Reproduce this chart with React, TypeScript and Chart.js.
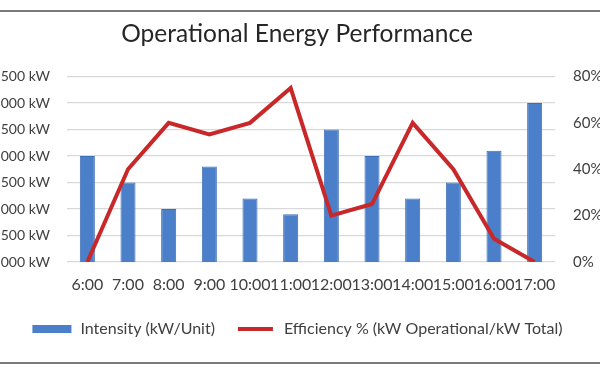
import React, { useEffect, useRef } from "react";
import { Chart, registerables } from "chart.js";

Chart.register(...registerables);

const categories = ["6:00", "7:00", "8:00", "9:00", "10:00", "11:00", "12:00", "13:00", "14:00", "15:00", "16:00", "17:00"];
const intensity = [3000, 2500, 2000, 2800, 2200, 1900, 3500, 3000, 2200, 2500, 3100, 4000];
const efficiency = [0, 40, 60, 55, 60, 75, 20, 25, 60, 40, 10, 0];
const intensityAxis = [1000, 4500, 500];
const efficiencyAxis = [0, 80, 20];
const chartTitle = "Operational Energy Performance";
const seriesNames = ["Intensity (kW/Unit)", "Efficiency % (kW Operational/kW Total)"];

const FONT = "Lato, 'Open Sans', sans-serif";
const BAR = "#4c7fc9";
const BAR_BORDER = "#3e6eb6";
const RED = "#c8282a";
const TEXT = "#404040";

export default function App() {
  const ref = useRef<HTMLCanvasElement | null>(null);

  useEffect(() => {
    if (!ref.current) return;
    const chart = new Chart(ref.current, {
      type: "bar",
      data: {
        labels: categories,
        datasets: [
          {
            type: "bar",
            label: seriesNames[0],
            data: intensity,
            backgroundColor: BAR,
            borderColor: BAR_BORDER,
            borderWidth: 1,
            barPercentage: 0.37,
            categoryPercentage: 1,
            yAxisID: "y",
            order: 1,
          },
          {
            type: "line",
            label: seriesNames[1],
            data: efficiency,
            borderColor: RED,
            backgroundColor: RED,
            borderWidth: 4,
            pointRadius: 0,
            tension: 0,
            yAxisID: "y1",
            order: 0,
          } as any,
        ],
      },
      options: {
        animation: false,
        responsive: false,
        maintainAspectRatio: false,
        layout: { padding: { left: 0, right: 0, top: 0, bottom: 15 } },
        plugins: {
          tooltip: { enabled: false },
          title: {
            display: true,
            text: chartTitle,
            color: "#262626",
            font: { family: FONT, size: 24.5, weight: "normal" as any },
            padding: { top: 7.5, bottom: 27.6 },
          },
          legend: {
            position: "bottom",
            labels: {
              boxWidth: 41,
              boxHeight: 10,
              padding: 20,
              color: TEXT,
              font: { family: FONT, size: 16 },
              generateLabels: (c: any) =>
                c.data.datasets.map((ds: any, i: number) => ({
                  text: ds.label,
                  fillStyle: ds.type === "line" ? RED : BAR,
                  strokeStyle: "#ffffff",
                  lineWidth: ds.type === "line" ? 6 : 2,
                  hidden: false,
                  datasetIndex: i,
                  fontColor: TEXT,
                })),
            },
          },
        },
        scales: {
          x: {
            grid: { display: false },
            border: { display: false },
            ticks: {
              autoSkip: false,
              maxRotation: 0,
              minRotation: 0,
              padding: 5,
              color: TEXT,
              font: { family: FONT, size: 16 },
            },
            afterFit: (s: any) => {
              s.height = 39;
            },
          },
          y: {
            position: "left",
            min: intensityAxis[0],
            max: intensityAxis[1],
            grid: { color: "#d9d9d9", lineWidth: 1.3, drawTicks: false },
            border: { display: false },
            ticks: {
              stepSize: intensityAxis[2],
              padding: 17,
              color: TEXT,
              font: { family: FONT, size: 14 },
              callback: (v: any) => Number(v).toLocaleString("en-US") + " kW",
            },
            afterFit: (s: any) => {
              s.width = 100;
            },
          },
          y1: {
            position: "right",
            min: efficiencyAxis[0],
            max: efficiencyAxis[1],
            grid: { display: false, drawTicks: false },
            border: { display: false },
            ticks: {
              stepSize: efficiencyAxis[2],
              padding: 18,
              color: TEXT,
              font: { family: FONT, size: 15 },
              callback: (v: any) => v + "%",
            },
            afterFit: (s: any) => {
              s.width = 72;
            },
          },
        },
      },
    });
    return () => chart.destroy();
  }, []);

  return (
    <div
      style={{
        position: "fixed",
        left: -33,
        top: 10,
        width: 660,
        height: 354,
        boxSizing: "border-box",
        borderTop: "2px solid #7a7a7a",
        borderBottom: "2px solid #7a7a7a",
        background: "#ffffff",
        overflow: "hidden",
      }}
    >
      <canvas ref={ref} width={660} height={350} style={{ display: "block", width: 660, height: 350 }} />
    </div>
  );
}
